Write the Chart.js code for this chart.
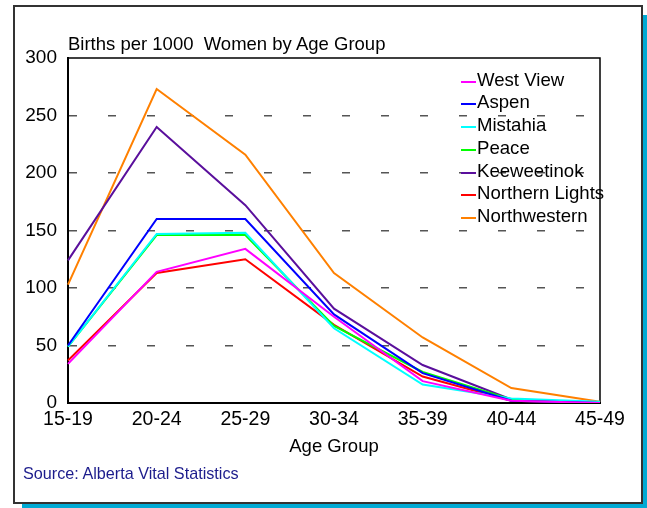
<!DOCTYPE html>
<html>
<head>
<meta charset="utf-8">
<script src="https://cdn.jsdelivr.net/npm/chart.js@4.4.1/dist/chart.umd.min.js"></script>
<style>
  body { margin: 0; background: #fff; font-family: "Liberation Sans", Arial, sans-serif; }
  #wrap { position: relative; width: 647px; height: 508px; overflow: hidden; }
  #shadow { position: absolute; left: 22px; top: 15px; width: 625px; height: 493px; background: #00aad4; }
  #frame { position: absolute; left: 13px; top: 5px; width: 630px; height: 499px; box-sizing: border-box;
           border: 2px solid #333; background: #fff; }
  #chart { position: absolute; left: 0; top: 0; }
  #title { position: absolute; left: 68px; top: 34px; font-size: 18.5px; line-height: 20px; color: #000; white-space: pre; }
  #source { position: absolute; left: 23px; top: 463px; font-size: 16.2px; line-height: 20px; color: #1c1c8c; }
  #legend { position: absolute; left: 461px; top: 68.5px; }
  .row { position: relative; height: 22.8px; font-size: 18.6px; line-height: 22.8px; white-space: nowrap; }
  .row i { position: absolute; left: 0; top: 12px; width: 15px; height: 2px; }
  .row span { position: absolute; left: 16px; top: 0; color: #000; }
</style>
</head>
<body>
<div id="wrap">
  <div id="shadow"></div>
  <div id="frame"></div>
  <canvas id="chart" width="647" height="508"></canvas>
  <div id="title">Births per 1000  Women by Age Group</div>
  <div id="legend"></div>
  <div id="source">Source: Alberta Vital Statistics</div>
</div>
<script>
// values
const ageGroups = ["15-19", "20-24", "25-29", "30-34", "35-39", "40-44", "45-49"];
const seriesNames = ["West View", "Aspen", "Mistahia", "Peace", "Keeweetinok", "Northern Lights", "Northwestern"];
const seriesColors = ["#ff00ff", "#0000ff", "#00ffff", "#00ff00", "#5a0f9c", "#ff0000", "#ff8000"];

const westView = [34, 114, 134, 75, 19, 2, 0];
const aspen = [50, 160, 160, 77, 26, 2, 0];
const mistahia = [49, 147, 148, 65, 16, 4, 1];
const peace = [49, 146, 146, 67, 27, 3, 0];
const keeweetinok = [124, 240, 172, 82, 33, 3, 0];
const northernLights = [37, 113, 125, 68, 23, 2, 0];
const northwestern = [103, 273, 216, 113, 57, 13, 1];

const yTicks = [0, 50, 100, 150, 200, 250, 300];

const seriesValues = [westView, aspen, mistahia, peace, keeweetinok, northernLights, northwestern];

Chart.defaults.font.family = '"Liberation Sans", Arial, sans-serif';
Chart.defaults.color = "#000";

// legend sits inside the plot, built from the same arrays
let legend = document.getElementById("legend");
seriesNames.forEach((name, i) => {
  let row = document.createElement("div");
  row.className = "row";
  row.innerHTML = '<i style="background:' + seriesColors[i] + '"></i><span>' + name + "</span>";
  legend.appendChild(row);
});

// solid top and right edges of the plot box
const plotFrame = {
  id: "plotFrame",
  beforeDatasetsDraw(chart) {
    let { ctx, chartArea: a } = chart;
    ctx.save();
    ctx.strokeStyle = "#000";
    ctx.lineWidth = 1.5;
    ctx.beginPath();
    ctx.moveTo(a.left, a.top);
    ctx.lineTo(a.right, a.top);
    ctx.lineTo(a.right, a.bottom);
    ctx.stroke();
    ctx.restore();
  },
};

new Chart(document.getElementById("chart"), {
  type: "line",
  data: {
    labels: ageGroups,
    datasets: seriesNames.map((name, i) => ({
      label: name,
      data: seriesValues[i],
      borderColor: seriesColors[i],
      backgroundColor: seriesColors[i],
      borderWidth: 2,
      pointRadius: 0,
      tension: 0,
      fill: false,
    })),
  },
  options: {
    responsive: false,
    animation: false,
    layout: { padding: { left: 13, top: 58, right: 47, bottom: 45 } },
    plugins: {
      legend: { display: false },
      tooltip: { enabled: false },
    },
    scales: {
      x: {
        offset: false,
        grid: { display: false, drawTicks: false },
        border: { color: "#000", width: 2 },
        ticks: { font: { size: 19.5 }, padding: 5, maxRotation: 0, autoSkip: false },
        title: { display: true, text: "Age Group", font: { size: 18.5 }, padding: { top: 4, bottom: 5 } },
        afterFit(scale) { scale.height = 60; },
      },
      y: {
        min: 0,
        max: 300,
        afterBuildTicks(scale) { scale.ticks = yTicks.map((v) => ({ value: v })); },
        grid: {
          drawTicks: false,
          lineWidth: 1.5,
          color: (c) => (c.tick && (c.tick.value === 0 || c.tick.value === 300) ? "rgba(0,0,0,0)" : "#555"),
        },
        border: { color: "#000", width: 2, dash: [8, 31] },
        ticks: { font: { size: 19 }, padding: 11 },
        afterFit(scale) { scale.width = 55; },
      },
    },
  },
  plugins: [plotFrame],
});
</script>
</body>
</html>
